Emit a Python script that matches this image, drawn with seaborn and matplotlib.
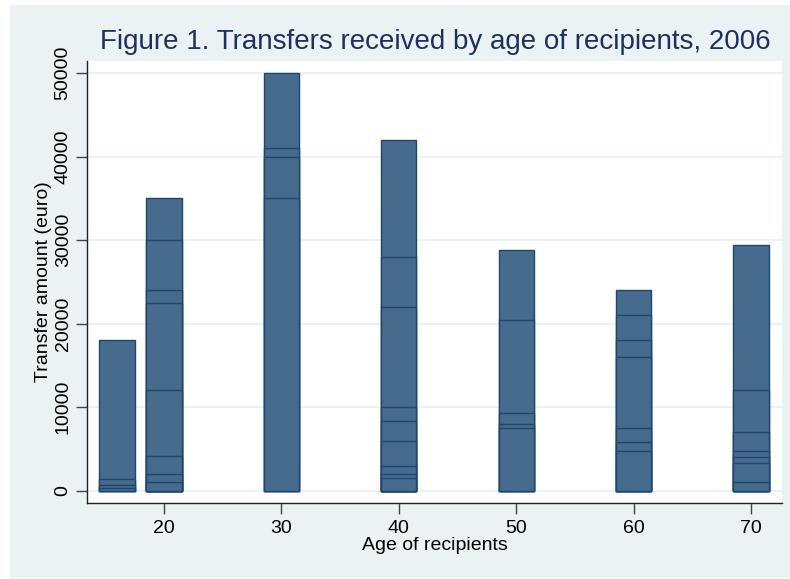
import numpy as np
import pandas as pd
import matplotlib
matplotlib.use("Agg")
import matplotlib.pyplot as plt
from matplotlib.patches import Rectangle
import seaborn as sns

# transfers received, one value per transfer, grouped by age of recipient
age_16 = [18000, 1400, 700, 300]
age_20 = [35000, 30000, 24000, 22500, 12000, 4200, 2000, 1000]
age_30 = [50000, 41000, 40000, 35000]
age_40 = [42000, 28000, 22000, 10000, 8400, 6000, 3000, 2000, 1500]
age_50 = [28800, 20400, 9300, 8000, 7500]
age_60 = [24000, 21000, 18000, 16000, 7500, 5800, 4800]
age_70 = [29400, 12000, 7000, 4800, 4000, 3300, 1000]

ages = [16, 20, 30, 40, 50, 60, 70]
amounts = [age_16, age_20, age_30, age_40, age_50, age_60, age_70]

rows = []
for a, vals in zip(ages, amounts):
    for rank, v in enumerate(sorted(vals, reverse=True)):
        rows.append({"age": a, "amount": v, "rank": rank})
df = pd.DataFrame(rows)

BG = "#EAF2F3"
FILL = "#476B8D"
EDGE = "#1C4770"

sns.set_theme(style="white")
plt.rcParams["font.family"] = ["Liberation Sans", "DejaVu Sans"]

fig = plt.figure(figsize=(7.9, 5.79), dpi=100, facecolor="white")
fig.patches.append(Rectangle((10 / 790, 1 / 579), 780 / 790, 573 / 579,
                             transform=fig.transFigure, facecolor=BG,
                             edgecolor="none", zorder=-10))
ax = fig.add_axes([87 / 790, 76 / 579, 695 / 790, 442 / 579])
ax.set_facecolor("white")

n_rank = df["rank"].nunique()
sns.barplot(data=df, x="age", y="amount", hue="rank", dodge=False,
            native_scale=True, width=0.75, errorbar=None,
            palette=[FILL] * n_rank, edgecolor=EDGE, linewidth=1.0,
            saturation=1, legend=False, ax=ax)

ax.set_xlim(13.44, 72.64)
ax.set_ylim(-1470, 51440)
ax.set_xticks([20, 30, 40, 50, 60, 70])
ax.set_yticks([0, 10000, 20000, 30000, 40000, 50000])
ax.set_yticklabels(["0", "10000", "20000", "30000", "40000", "50000"],
                   rotation=90, va="center")
ax.yaxis.grid(True, color=BG, linewidth=1.5)
ax.set_axisbelow(True)

for s in ["top", "right"]:
    ax.spines[s].set_visible(False)
for s in ["left", "bottom"]:
    ax.spines[s].set_color("#222222")
    ax.spines[s].set_linewidth(1.0)

ax.tick_params(axis="both", which="major", direction="out", length=8,
               width=1, color="#444444", labelsize=14, labelcolor="black",
               bottom=True, left=True)
ax.tick_params(axis="y", pad=3)
ax.tick_params(axis="x", pad=4)

ax.set_xlabel("Age of recipients", fontsize=14, labelpad=0, color="black")
ax.set_ylabel("Transfer amount (euro)", fontsize=14, labelpad=2, color="black")

fig.text(435 / 790, 1 - 42 / 579,
         "Figure 1. Transfers received by age of recipients, 2006",
         ha="center", va="center", fontsize=20, color="#1E3060")

fig.savefig("out.png", dpi=100, facecolor=fig.get_facecolor())
